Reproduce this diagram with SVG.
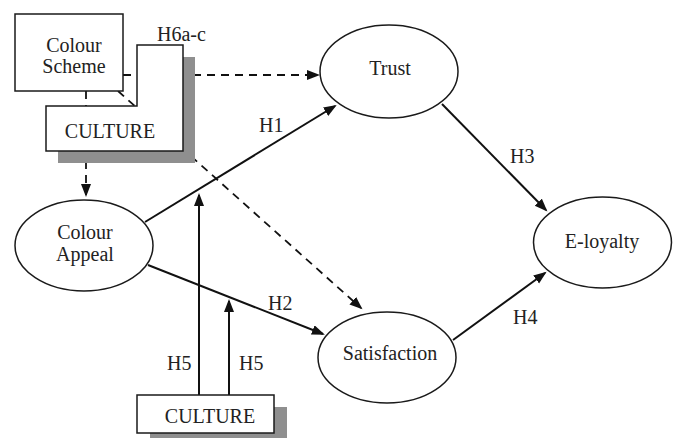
<svg xmlns="http://www.w3.org/2000/svg" width="676" height="439" viewBox="0 0 676 439" font-family="Liberation Serif, serif">
<style>
  text { font-size: 20px; fill: #222; }
  .c { text-anchor: middle; }
  .box { fill: #fff; stroke: #1a1a1a; stroke-width: 1.5; }
  .shadow { fill: #8f8f8f; stroke: none; }
  .ell { fill: #fff; stroke: #1a1a1a; stroke-width: 1.5; }
  .line { fill: none; stroke: #111; stroke-width: 2; marker-end: url(#arr); }
  .dash { fill: none; stroke: #111; stroke-width: 1.8; stroke-dasharray: 8 6; marker-end: url(#arr); }
</style>
<defs>
  <marker id="arr" markerUnits="userSpaceOnUse" markerWidth="14" markerHeight="12" refX="11" refY="5" orient="auto">
    <path d="M0,0 L13,5 L0,10 z" fill="#111"/>
  </marker>
</defs>
<rect width="676" height="439" fill="#fff"/>
<g id="connectors">
  <path class="dash" d="M123,75 H318"/>
  <path class="dash" d="M86,91 V195"/>
  <path class="dash" d="M118,91 L361,308"/>
  <path class="line" d="M145,222 L335,106"/>
  <path class="line" d="M148,265 L323,334"/>
  <path class="line" d="M442,104 L546,210"/>
  <path class="line" d="M453,340 L545,273"/>
  <path class="line" d="M199,395 V195"/>
  <path class="line" d="M229,395 V301"/>
  <text x="259" y="132">H1</text>
  <text x="268" y="310">H2</text>
  <text x="510" y="163">H3</text>
  <text x="513" y="324">H4</text>
  <text x="167" y="370">H5</text>
  <text x="239" y="370">H5</text>
  <text x="157" y="41">H6a-c</text>
</g>
<g id="colour-scheme">
  <rect class="box" x="15" y="14" width="108" height="77"/>
  <text class="c" x="74" y="52">Colour</text>
  <text class="c" x="74" y="73">Scheme</text>
</g>
<g id="culture-top">
  <polygon class="shadow" points="149,57 195,57 195,163 58,163 58,118 149,118"/>
  <polygon class="box" points="137,45 183,45 183,151 46,151 46,106 137,106"/>
  <text class="c" x="110" y="138">CULTURE</text>
</g>
<g id="colour-appeal">
  <ellipse class="ell" cx="84" cy="245.5" rx="69" ry="45.5"/>
  <text class="c" x="85" y="239">Colour</text>
  <text class="c" x="85" y="261">Appeal</text>
</g>
<g id="trust">
  <ellipse class="ell" cx="389" cy="71.5" rx="69" ry="46.5"/>
  <text class="c" x="390" y="75">Trust</text>
</g>
<g id="satisfaction">
  <ellipse class="ell" cx="387" cy="357.5" rx="69" ry="45.5"/>
  <text class="c" x="390" y="360">Satisfaction</text>
</g>
<g id="e-loyalty">
  <ellipse class="ell" cx="602.5" cy="242.5" rx="69" ry="45.5"/>
  <text class="c" x="602" y="248">E-loyalty</text>
</g>
<g id="culture-bottom">
  <rect class="shadow" x="150" y="407" width="137" height="31"/>
  <rect class="box" x="137" y="395" width="137" height="38"/>
  <text class="c" x="210" y="423">CULTURE</text>
</g>
</svg>
